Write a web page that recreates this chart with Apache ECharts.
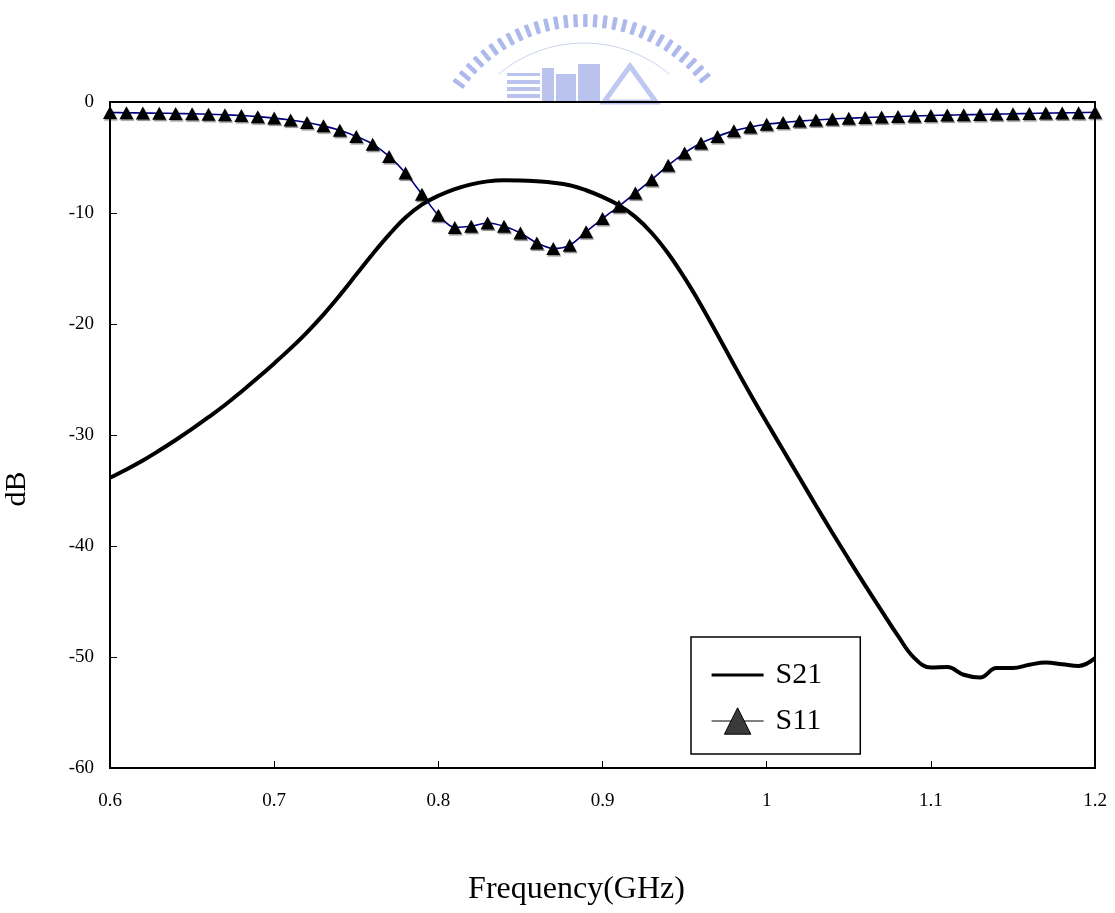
<!DOCTYPE html>
<html>
<head>
<meta charset="utf-8">
<title>S-parameters vs Frequency</title>
<script src="https://cdn.jsdelivr.net/npm/echarts@6/dist/echarts.min.js"></script>
<style>
  html, body { margin: 0; padding: 0; background: #fff; }
  #chart { width: 1115px; height: 913px; }
</style>
</head>
<body>
<div id="chart"></div>
<script>
// Frequency sweep (GHz), 0.01 GHz step
const freq = [
  0.60, 0.61, 0.62, 0.63, 0.64, 0.65, 0.66, 0.67, 0.68, 0.69,
  0.70, 0.71, 0.72, 0.73, 0.74, 0.75, 0.76, 0.77, 0.78, 0.79,
  0.80, 0.81, 0.82, 0.83, 0.84, 0.85, 0.86, 0.87, 0.88, 0.89,
  0.90, 0.91, 0.92, 0.93, 0.94, 0.95, 0.96, 0.97, 0.98, 0.99,
  1.00, 1.01, 1.02, 1.03, 1.04, 1.05, 1.06, 1.07, 1.08, 1.09,
  1.10, 1.11, 1.12, 1.13, 1.14, 1.15, 1.16, 1.17, 1.18, 1.19,
  1.20
];

// Transmission S21 (dB)
const s21 = [
  -33.85, -33.1, -32.3, -31.4, -30.45, -29.45, -28.4, -27.3, -26.1, -24.85,
  -23.55, -22.2, -20.75, -19.15, -17.4, -15.55, -13.7, -11.95, -10.4, -9.25,
  -8.45, -7.85, -7.42, -7.15, -7.05, -7.07, -7.15, -7.27, -7.5, -7.95,
  -8.55, -9.3, -10.35, -11.8, -13.65, -15.85, -18.3, -20.95, -23.65, -26.3,
  -28.85, -31.35, -33.85, -36.35, -38.8, -41.2, -43.55, -45.85, -48.1, -50.1,
  -50.95, -50.9, -51.6, -51.85, -51.0, -51.0, -50.7, -50.5, -50.65, -50.8,
  -50.1
];

// Reflection S11 (dB)
const s11 = [
  -0.95, -0.97, -0.99, -1.01, -1.03, -1.06, -1.1, -1.15, -1.22, -1.32,
  -1.45, -1.62, -1.85, -2.15, -2.55, -3.1, -3.8, -4.9, -6.4, -8.3,
  -10.2, -11.3, -11.2, -10.9, -11.2, -11.8, -12.7, -13.2, -12.9, -11.7,
  -10.5, -9.4, -8.2, -7.0, -5.7, -4.6, -3.7, -3.1, -2.6, -2.25,
  -2.0, -1.85, -1.72, -1.62, -1.53, -1.46, -1.4, -1.35, -1.3, -1.26,
  -1.22, -1.18, -1.15, -1.12, -1.09, -1.06, -1.03, -1.0, -0.98, -0.96,
  -0.93
];

const xTicks = { min: 0.6, max: 1.2, step: 0.1 };
const yTicks = { min: -60, max: 0, step: 10 };

const serif = "'Liberation Serif', 'DejaVu Serif', serif";

// Faint emblem sitting on the top edge of the plot frame:
// a ring of teeth, a thin inner ring and a few building blocks
function emblem() {
  const cx = 584, cy = 176, r = 155;
  const blue = '#8a9be3';
  const els = [];
  for (let a = 216.5; a <= 323.6; a += 3.6) {
    const rad = a * Math.PI / 180;
    els.push({
      type: 'rect',
      x: cx + r * Math.cos(rad),
      y: cy + r * Math.sin(rad),
      rotation: -(rad + Math.PI / 2),
      shape: { x: -2.2, y: -7, width: 4.4, height: 13, r: 1 },
      style: { fill: blue, opacity: 0.7 },
      silent: true, z: -1
    });
  }
  els.push({
    type: 'arc',
    shape: { cx: cx, cy: cy, r: 133, startAngle: 230 * Math.PI / 180, endAngle: 310 * Math.PI / 180 },
    style: { stroke: blue, lineWidth: 1, fill: null, opacity: 0.45 },
    silent: true, z: -1
  });
  const blocks = [
    [507, 94, 33, 4], [507, 87, 33, 4], [507, 80, 33, 4], [507, 73, 33, 3],
    [542, 68, 12, 34], [556, 74, 20, 28], [578, 64, 22, 38]
  ];
  blocks.forEach(b => els.push({
    type: 'rect',
    shape: { x: b[0], y: b[1], width: b[2], height: b[3] },
    style: { fill: blue, opacity: 0.6 },
    silent: true, z: -1
  }));
  els.push({
    type: 'polygon',
    shape: { points: [[604, 102], [630, 66], [656, 102]] },
    style: { fill: null, stroke: blue, lineWidth: 5, opacity: 0.55 },
    silent: true, z: -1
  });
  return els;
}

const chart = echarts.init(document.getElementById('chart'), null, { renderer: 'canvas' });

chart.setOption({
  backgroundColor: '#fff',
  animation: false,
  graphic: emblem(),
  grid: {
    left: 110, right: 20, top: 102, bottom: 145,
    outerBoundsMode: 'none', containLabel: false,
    show: true, borderColor: '#000', borderWidth: 2, backgroundColor: 'transparent'
  },
  legend: {
    orient: 'vertical',
    left: 691, top: 637,
    backgroundColor: '#fff',
    borderColor: '#000', borderWidth: 1.5, borderRadius: 0,
    padding: [23, 38, 18, 20],
    itemWidth: 52, itemHeight: 33, itemGap: 16,
    textStyle: { fontFamily: serif, fontSize: 30, color: '#000', padding: [0, 0, 0, 7] },
    data: [
      { name: 'S21', icon: 'path://M0,0 L52,0 L52,3 L0,3 Z', itemStyle: { color: '#000' } },
      { name: 'S11',
        itemStyle: { color: '#3a3a3a', borderColor: '#000', borderWidth: 1, shadowBlur: 0, shadowOffsetX: 0, shadowOffsetY: 0 },
        lineStyle: { color: '#000', width: 1.2 } }
    ]
  },
  xAxis: {
    type: 'value',
    min: xTicks.min, max: xTicks.max, interval: xTicks.step,
    name: 'Frequency(GHz)', nameLocation: 'middle', nameGap: 106,
    // right padding nudges the title slightly left of the plot centre
    nameTextStyle: { fontFamily: serif, fontSize: 32, color: '#000', padding: [0, 52, 0, 0] },
    axisLine: { show: true, onZero: false, lineStyle: { color: '#000', width: 2 } },
    axisTick: { show: true, inside: true, length: 7, lineStyle: { color: '#000', width: 1 } },
    axisLabel: { fontFamily: serif, fontSize: 19, color: '#000', margin: 24 },
    splitLine: { show: false }
  },
  yAxis: {
    type: 'value',
    min: yTicks.min, max: yTicks.max, interval: yTicks.step,
    name: 'dB', nameLocation: 'middle', nameGap: 78, nameRotate: 90,
    // padding on the (rotated) right side moves the title down the axis
    nameTextStyle: { fontFamily: serif, fontSize: 30, color: '#000', padding: [0, 108, 0, 0] },
    axisLine: { show: true, onZero: false, lineStyle: { color: '#000', width: 2 } },
    axisTick: { show: true, inside: true, length: 7, lineStyle: { color: '#000', width: 1 } },
    axisLabel: { fontFamily: serif, fontSize: 19, color: '#000', margin: 16 },
    splitLine: { show: false }
  },
  series: [
    {
      name: 'S21',
      type: 'line',
      data: freq.map((f, i) => [f, s21[i]]),
      smooth: 0.4,
      symbol: 'none',
      lineStyle: { color: '#000', width: 4 },
      itemStyle: { color: '#000' },
      z: 2
    },
    {
      name: 'S11',
      type: 'line',
      data: freq.map((f, i) => [f, s11[i]]),
      smooth: 0.3,
      symbol: 'triangle',
      symbolSize: [14, 13],
      showAllSymbol: true,
      lineStyle: { color: '#000080', width: 1.6 },
      itemStyle: {
        color: '#000',
        shadowColor: 'rgba(0,0,0,0.45)', shadowBlur: 1, shadowOffsetX: 1, shadowOffsetY: 1.5
      },
      z: 3
    }
  ]
});
</script>
</body>
</html>
